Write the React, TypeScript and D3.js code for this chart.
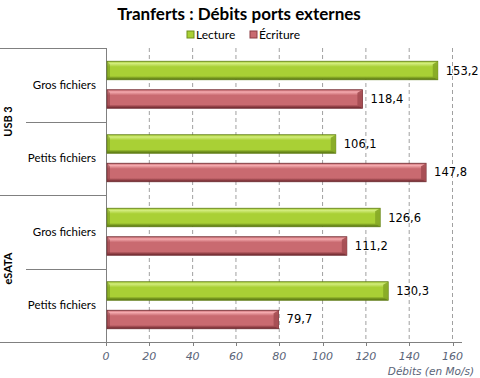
import React from "react";
import * as d3 from "d3";

const groups = ["USB 3", "eSATA"];
const categories = ["USB 3|Gros fichiers", "USB 3|Petits fichiers", "eSATA|Gros fichiers", "eSATA|Petits fichiers"];
const categoryLabels = ["Gros fichiers", "Petits fichiers", "Gros fichiers", "Petits fichiers"];
const series = ["Lecture", "Écriture"];
const lecture = [153.2, 106.1, 126.6, 130.3];
const ecriture = [118.4, 147.8, 111.2, 79.7];
const ticks = [0, 20, 40, 60, 80, 100, 120, 140, 160];

const W = 480, H = 378;
const X0 = 106, X1 = 452.5, Y0 = 48, Y1 = 342;

const colors = {
  Lecture: { light: "#d2ec7c", mid: "#a9d035", dark: "#6f8f1c", edge: "#5d7a14", end: "#86a826" },
  "Écriture": { light: "#f4aaae", mid: "#c96a70", dark: "#8c3c42", edge: "#6e2a30", end: "#a44c52" },
};

function fmt(v: number) {
  return v.toFixed(1).replace(".", ",");
}

export default function App() {
  const x = d3.scaleLinear().domain([0, 160]).range([X0, X1]);
  const y = d3.scaleBand<string>().domain(categories).range([Y0, Y1]).padding(0);
  const ySub = d3.scaleBand<string>().domain(series).range([0, y.bandwidth()]).paddingInner(0.351).paddingOuter(0.465);
  const values: Record<string, number[]> = { Lecture: lecture, "Écriture": ecriture };
  const font = "Lato, 'Open Sans', sans-serif";
  const vfont = "'DejaVu Sans', Verdana, sans-serif";

  return (
    <svg width={W} height={H} style={{ position: "absolute", left: 0, top: 0, background: "#fff" }}>
      <defs>
        {series.map((s, i) => {
          const c = colors[s as keyof typeof colors];
          return (
            <linearGradient key={s} id={`g${i}`} x1="0" y1="0" x2="0" y2="1">
              <stop offset="0" stopColor={c.mid} />
              <stop offset="0.12" stopColor={c.light} />
              <stop offset="0.3" stopColor={c.mid} />
              <stop offset="0.8" stopColor={c.mid} />
              <stop offset="0.92" stopColor={c.dark} />
              <stop offset="1" stopColor={c.edge} />
            </linearGradient>
          );
        })}
      </defs>
      <rect width={W} height={H} fill="#fff" />

      <text x={239} y={20} textAnchor="middle" fontFamily={font} fontWeight="bold" fontSize={17} fill="#000">Tranferts : Débits ports externes</text>

      {/* legend */}
      {series.map((s, i) => {
        const c = colors[s as keyof typeof colors];
        const lx = i === 0 ? 187 : 250;
        return (
          <g key={s}>
            <rect x={lx} y={31} width={7} height={7} fill={c.mid} stroke={c.dark} strokeWidth={1} />
            <text x={lx + 9} y={39} fontFamily={font} fontSize={12} fill="#000">{s}</text>
          </g>
        );
      })}

      {/* grid */}
      {ticks.filter(t => t > 0).map(t => (
        <line key={t} x1={x(t)} x2={x(t)} y1={Y0} y2={Y1} stroke="#a0a0a0" strokeDasharray="4,3" strokeWidth={1} />
      ))}

      {/* left category box lines */}
      <line x1={0} x2={X0} y1={Y0 + 0.5} y2={Y0 + 0.5} stroke="#808080" />
      {categories.map((c, i) => {
        if (i === 0) return null;
        const yy = Math.round(y(c)!) + 0.5;
        const full = c.split("|")[1] === "Gros fichiers";
        return <line key={c} x1={full ? 0 : 26} x2={X0} y1={yy} y2={yy} stroke="#808080" />;
      })}
      <line x1={0} x2={462} y1={Y1 + 0.5} y2={Y1 + 0.5} stroke="#808080" />
      <line x1={X0 + 0.5} x2={X0 + 0.5} y1={Y0} y2={Y1} stroke="#808080" />
      {ticks.map(t => (
        <line key={t} x1={Math.round(x(t)) + 0.5} x2={Math.round(x(t)) + 0.5} y1={Y1} y2={Y1 + 4} stroke="#808080" />
      ))}

      {/* category labels */}
      {categories.map((c, i) => (
        <text key={c} x={96} y={y(c)! + y.bandwidth() / 2 + 4} textAnchor="end" fontFamily={font} fontSize={11.5} fill="#000">{categoryLabels[i]}</text>
      ))}
      {groups.map((g, gi) => {
        const cy = Y0 + (Y1 - Y0) * (gi * 2 + 1) / 4;
        return (
          <text key={g} transform={`translate(12,${cy}) rotate(-90)`} textAnchor="middle" fontFamily={font} fontWeight="bold" fontSize={11} fill="#000">{g}</text>
        );
      })}

      {/* bars */}
      {categories.map((c, ci) => series.map((s, si) => {
        const v = values[s][ci];
        const c0 = colors[s as keyof typeof colors];
        const by = y(c)! + ySub(s)!;
        const bh = ySub.bandwidth();
        const bx = x(0) + 1;
        const bw = x(v) - bx;
        const bev = 5;
        return (
          <g key={c + s}>
            <rect x={bx} y={by} width={bw} height={bh} fill={`url(#g${si})`} stroke={c0.edge} strokeWidth={0.8} />
            <polygon points={`${bx + bw - bev},${by + 3} ${bx + bw},${by} ${bx + bw},${by + bh} ${bx + bw - bev},${by + bh - 3}`} fill={c0.end} opacity={0.9} />
            <polygon points={`${bx},${by} ${bx + 3},${by + 3} ${bx + 3},${by + bh - 3} ${bx},${by + bh}`} fill={c0.dark} opacity={0.5} />
            <text x={x(v) + 8} y={by + bh / 2 + 4} fontFamily={vfont} fontSize={11.5} fill="#000">{fmt(v)}</text>
          </g>
        );
      }))}

      {/* tick labels */}
      {ticks.map(t => (
        <text key={t} x={x(t)} y={360} textAnchor="middle" fontFamily={vfont} fontStyle="italic" fontSize={11} fill="#5a6478">{t}</text>
      ))}
      <text x={474} y={375} textAnchor="end" fontFamily={vfont} fontStyle="italic" fontSize={10.5} fill="#5a6478">Débits (en Mo/s)</text>
    </svg>
  );
}
